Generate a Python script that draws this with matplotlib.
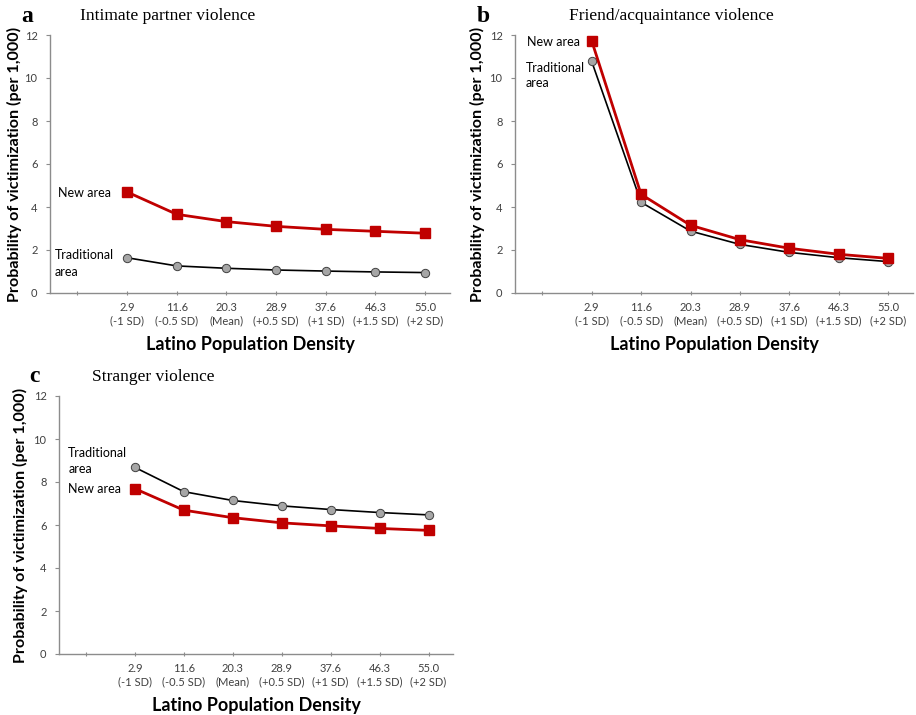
import matplotlib
matplotlib.use("Agg")
import matplotlib.pyplot as plt

W, H = 916, 715

densities = ["2.9", "11.6", "20.3", "28.9", "37.6", "46.3", "55.0"]
sd_labels = ["(-1 SD)", "(-0.5 SD)", "(Mean)", "(+0.5 SD)", "(+1 SD)", "(+1.5 SD)", "(+2 SD)"]

ipv_new = [4.70, 3.66, 3.32, 3.10, 2.96, 2.87, 2.78]
ipv_trad = [1.64, 1.26, 1.15, 1.07, 1.02, 0.98, 0.95]

friend_new = [11.74, 4.59, 3.15, 2.48, 2.08, 1.80, 1.61]
friend_trad = [10.78, 4.22, 2.88, 2.26, 1.89, 1.64, 1.46]

stranger_new = [7.69, 6.69, 6.34, 6.10, 5.96, 5.84, 5.75]
stranger_trad = [8.68, 7.55, 7.14, 6.89, 6.72, 6.58, 6.47]

titles = ["Intimate partner violence", "Friend/acquaintance violence", "Stranger violence"]
letters = ["a", "b", "c"]

RED = "#C00000"
GRAY_SPINE = "#8C8C8C"
TICK_COL = "#404040"
SANS = ["Lato", "DejaVu Sans"]
SERIF = ["Liberation Serif", "DejaVu Serif"]

fig = plt.figure(figsize=(W / 100, H / 100), dpi=100)

def px_axes(left, top, right, bottom):
    return fig.add_axes([left / W, 1 - bottom / H, (right - left) / W, (bottom - top) / H])

def draw_panel(ax, new, trad, ylab_x):
    xs = list(range(1, len(densities) + 1))
    ax.plot(xs, trad, color="black", lw=1.2, marker="o", ms=6,
            mfc="#A6A6A6", mec="#404040", mew=0.7, zorder=3)
    ax.plot(xs, new, color=RED, lw=2.0, marker="s", ms=7,
            mfc=RED, mec=RED, zorder=4)
    ax.set_xlim(-0.55, 7.5)
    ax.set_ylim(0, 12)
    ax.set_yticks(range(0, 13, 2))
    ax.set_xticks(range(0, 8))
    ax.set_xticklabels([""] + [f"{d}\n{s}" for d, s in zip(densities, sd_labels)],
                       fontsize=8, color=TICK_COL, family=SANS, linespacing=1.2)
    for lab in ax.get_yticklabels():
        lab.set_fontsize(8)
        lab.set_color(TICK_COL)
        lab.set_family(SANS)
    for s in ["top", "right"]:
        ax.spines[s].set_visible(False)
    for s in ["left", "bottom"]:
        ax.spines[s].set_color(GRAY_SPINE)
        ax.spines[s].set_linewidth(1.0)
    ax.tick_params(axis="y", length=3, color=GRAY_SPINE, pad=6)
    ax.tick_params(axis="x", length=3, color=GRAY_SPINE, direction="inout", pad=5)
    ax.set_ylabel("Probability of victimization (per 1,000)", fontsize=11.6,
                  fontweight="bold", family=SANS)
    ax.yaxis.set_label_coords(ylab_x, 0.5)
    ax.set_xlabel("Latino Population Density", fontsize=13, fontweight="bold",
                  family=SANS, labelpad=7)

ANN = dict(fontsize=9, family=SANS, va="center", ha="left")

# Panel a
axa = px_axes(50, 35, 450, 293)
draw_panel(axa, ipv_new, ipv_trad, -0.07)
axa.text(-0.39, 4.65, "New area", **ANN)
axa.text(-0.45, 1.77, "Traditional", **ANN)
axa.text(-0.45, 0.98, "area", **ANN)

# Panel b
axb = px_axes(515, 35, 913, 293)
draw_panel(axb, friend_new, friend_trad, -0.075)
axb.text(-0.31, 11.67, "New area", **ANN)
axb.text(-0.33, 10.47, "Traditional", **ANN)
axb.text(-0.33, 9.77, "area", **ANN)

# Panel c
axc = px_axes(59, 396, 453, 654)
draw_panel(axc, stranger_new, stranger_trad, -0.079)
axc.text(-0.36, 9.36, "Traditional", **ANN)
axc.text(-0.36, 8.6, "area", **ANN)
axc.text(-0.36, 7.69, "New area", **ANN)

# Titles and panel letters
def fig_text(x, y, s, **kw):
    fig.text(x / W, 1 - y / H, s, **kw)

fig_text(21, 16, letters[0], fontsize=17, fontweight="bold", family=SERIF, va="center", ha="left")
fig_text(80, 16, titles[0], fontsize=12.5, family=SERIF, va="center", ha="left")
fig_text(477, 16, letters[1], fontsize=17, fontweight="bold", family=SERIF, va="center", ha="left")
fig_text(569, 16, titles[1], fontsize=12.5, family=SERIF, va="center", ha="left")
fig_text(29, 376, letters[2], fontsize=17, fontweight="bold", family=SERIF, va="center", ha="left")
fig_text(92, 377, titles[2], fontsize=12.5, family=SERIF, va="center", ha="left")

fig.savefig("out.png", dpi=100)
